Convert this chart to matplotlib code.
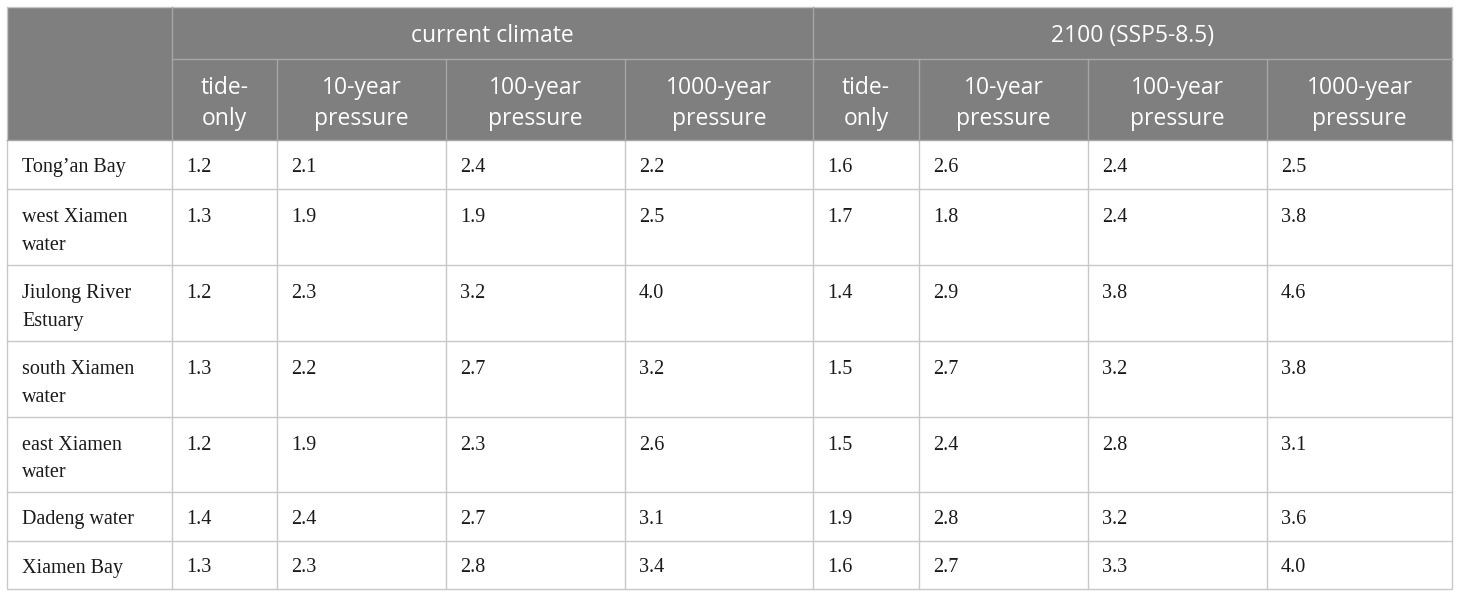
import matplotlib.pyplot as plt
from matplotlib.patches import Rectangle

# table content
groups = ['current climate', '2100 (SSP5-8.5)']
sub_headers = ['tide-\nonly', '10-year\npressure', '100-year\npressure', '1000-year\npressure']
locations = ['Tong\u2019an Bay', 'west Xiamen\nwater', 'Jiulong River\nEstuary',
             'south Xiamen\nwater', 'east Xiamen\nwater', 'Dadeng water', 'Xiamen Bay']
current = [
    [1.2, 2.1, 2.4, 2.2],
    [1.3, 1.9, 1.9, 2.5],
    [1.2, 2.3, 3.2, 4.0],
    [1.3, 2.2, 2.7, 3.2],
    [1.2, 1.9, 2.3, 2.6],
    [1.4, 2.4, 2.7, 3.1],
    [1.3, 2.3, 2.8, 3.4],
]
future = [
    [1.6, 2.6, 2.4, 2.5],
    [1.7, 1.8, 2.4, 3.8],
    [1.4, 2.9, 3.8, 4.6],
    [1.5, 2.7, 3.2, 3.8],
    [1.5, 2.4, 2.8, 3.1],
    [1.9, 2.8, 3.2, 3.6],
    [1.6, 2.7, 3.3, 4.0],
]

# layout in pixels
col_x = [7, 172, 277, 446, 625, 813, 919, 1088, 1267, 1452]
row_y = [7, 59, 140, 189, 265, 341, 417, 492, 541, 589]

head_col = '#7f7f7f'
grid_col = '#c8c8c8'
head_line = '#a6a6a6'
head_font = ['Open Sans', 'DejaVu Sans']
body_font = ['Liberation Serif', 'DejaVu Serif']

fig = plt.figure(figsize=(14.6, 5.97), dpi=100)
ax = fig.add_axes([0, 0, 1, 1])
ax.set_xlim(0, 1460)
ax.set_ylim(597, 0)
ax.axis('off')

# header background
ax.add_patch(Rectangle((col_x[0], row_y[0]), col_x[-1] - col_x[0], row_y[2] - row_y[0],
                       facecolor=head_col, edgecolor='none'))

# grid lines in body
for y in row_y[3:-1]:
    ax.plot([col_x[0], col_x[-1]], [y, y], color=grid_col, lw=1)
for x in col_x[1:-1]:
    ax.plot([x, x], [row_y[2], row_y[-1]], color=grid_col, lw=1)
# grid lines in header
ax.plot([col_x[1], col_x[-1]], [row_y[1], row_y[1]], color=head_line, lw=1)
ax.plot([col_x[0], col_x[-1]], [row_y[2], row_y[2]], color=head_line, lw=1)
for x in [col_x[1], col_x[5]]:
    ax.plot([x, x], [row_y[0], row_y[2]], color=head_line, lw=1)
for x in col_x[2:5] + col_x[6:9]:
    ax.plot([x, x], [row_y[1], row_y[2]], color=head_line, lw=1)
# outer border
ax.add_patch(Rectangle((col_x[0], row_y[0]), col_x[-1] - col_x[0], row_y[-1] - row_y[0],
                       facecolor='none', edgecolor=grid_col, lw=1))

# group headers
for g, name in enumerate(groups):
    x0, x1 = col_x[1 + 4 * g], col_x[5 + 4 * g]
    ax.text((x0 + x1) / 2, (row_y[0] + row_y[1]) / 2 + 3, name, color='white',
            fontsize=16.5, family=head_font, ha='center', va='center')

# sub headers
for g in range(2):
    for j, h in enumerate(sub_headers):
        c = 1 + 4 * g + j
        ax.text((col_x[c] + col_x[c + 1]) / 2, (row_y[1] + row_y[2]) / 2 + 4, h,
                color='white', fontsize=16.5, family=head_font, ha='center',
                va='center', linespacing=1.35)

# body
for i, loc in enumerate(locations):
    yc = (row_y[i + 2] + row_y[i + 3]) / 2
    two = '\n' in loc
    ax.text(col_x[0] + 15, yc + (4.5 if two else 3), loc, fontsize=14.5,
            family=body_font, ha='left', va='center', color='#1a1a1a',
            linespacing=1.6)
    vals = current[i] + future[i]
    for j, v in enumerate(vals):
        top = yc - 9.5 if two else yc + 3
        ax.text(col_x[j + 1] + 14, top, '{:.1f}'.format(v), fontsize=14.5,
                family=body_font, ha='left', va='center', color='#1a1a1a')

plt.savefig('out.png', dpi=100)
